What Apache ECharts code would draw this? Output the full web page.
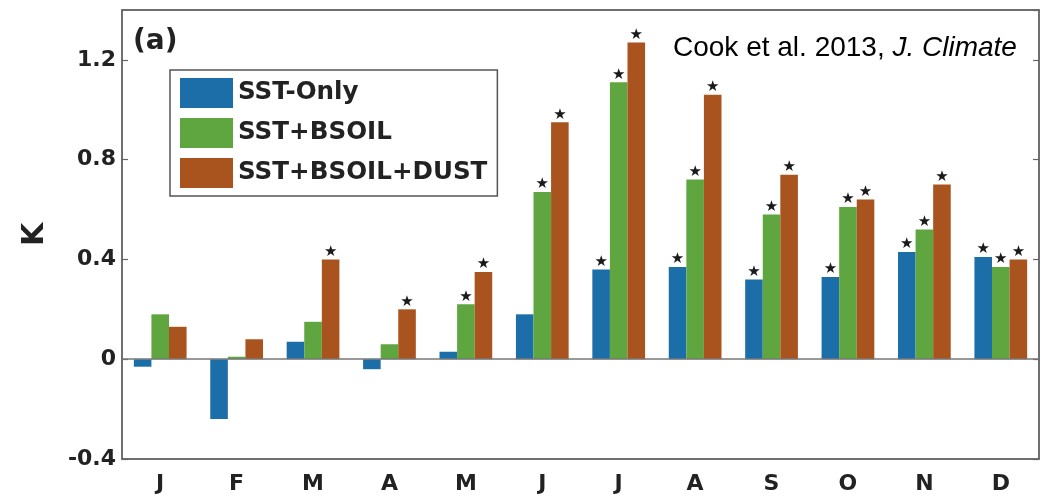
<!DOCTYPE html>
<html>
<head>
<meta charset="utf-8">
<style>
  html, body { margin: 0; padding: 0; background: #fff; }
  #chart { width: 1053px; height: 497px; }
</style>
<script src="https://cdn.jsdelivr.net/npm/echarts@6/dist/echarts.min.js"></script>
</head>
<body>
<div id="chart"></div>
<script>
// ---- data ----
const months = ['J', 'F', 'M', 'A', 'M', 'J', 'J', 'A', 'S', 'O', 'N', 'D'];
const seriesNames = ['SST-Only', 'SST+BSOIL', 'SST+BSOIL+DUST'];
const sstOnly      = [-0.03, -0.24, 0.07, -0.04, 0.03, 0.18, 0.36, 0.37, 0.32, 0.33, 0.43, 0.41];
const sstBsoil     = [0.18, 0.01, 0.15, 0.06, 0.22, 0.67, 1.11, 0.72, 0.58, 0.61, 0.52, 0.37];
const sstBsoilDust = [0.13, 0.08, 0.40, 0.20, 0.35, 0.95, 1.27, 1.06, 0.74, 0.64, 0.70, 0.40];
// significance flags (star above bar)
const sigOnly      = [0, 0, 0, 0, 0, 0, 1, 1, 1, 1, 1, 1];
const sigBsoil     = [0, 0, 0, 0, 1, 1, 1, 1, 1, 1, 1, 1];
const sigDust      = [0, 0, 1, 1, 1, 1, 1, 1, 1, 1, 1, 1];
const yTicks = [-0.4, 0, 0.4, 0.8, 1.2];

const colors = ['#1b6ea8', '#5fa640', '#a9531e'];
const axisColor = '#666';
const labelFont = 'DejaVu Sans';

function makeSeries(name, values, sig, color, withZero) {
  const s = {
    name: name,
    type: 'bar',
    data: values,
    barGap: '0%',
    barCategoryGap: '31%',
    itemStyle: { color: color },
    label: {
      show: true,
      position: 'top',
      distance: 0,
      formatter: p => sig[p.dataIndex] ? '\u2605' : '',
      fontSize: 15,
      color: '#1a1a1a',
      fontFamily: 'DejaVu Sans'
    },
    emphasis: { disabled: true },
    animation: false
  };
  if (withZero) {
    s.markLine = {
      silent: true,
      symbol: ['none', 'none'],
      label: { show: false },
      lineStyle: { color: '#777', width: 1.5, type: 'solid' },
      data: [{ yAxis: 0 }],
      animation: false
    };
  }
  return s;
}

const chart = echarts.init(document.getElementById('chart'), null, { renderer: 'canvas' });

const option = {
  backgroundColor: '#fff',
  animation: false,
  grid: {
    left: 122, right: 14, top: 10, bottom: 38,
    show: true, borderColor: axisColor, borderWidth: 1.5, backgroundColor: 'transparent'
  },
  legend: {
    orient: 'vertical',
    left: 170, top: 70,
    icon: 'rect',
    itemWidth: 53, itemHeight: 30, itemGap: 10,
    padding: [8, 10, 8, 10],
    borderColor: '#555', borderWidth: 1.5,
    backgroundColor: '#fff',
    selectedMode: false,
    textStyle: { fontFamily: labelFont, fontWeight: 'bold', fontSize: 24.6, color: '#222' },
    data: seriesNames
  },
  xAxis: [
    {
      type: 'category', data: months, position: 'bottom',
      axisLine: { onZero: false, lineStyle: { color: axisColor, width: 1.5 } },
      axisTick: { inside: true, alignWithLabel: true, length: 6, lineStyle: { color: axisColor, width: 1.2 } },
      axisLabel: { fontFamily: labelFont, fontWeight: 'bold', fontSize: 22, color: '#222', margin: 14 },
      splitLine: { show: false }
    },
    {
      type: 'category', data: months, position: 'top',
      axisLine: { show: true, onZero: false, lineStyle: { color: axisColor, width: 1.5 } },
      axisTick: { inside: true, alignWithLabel: true, length: 6, lineStyle: { color: axisColor, width: 1.2 } },
      axisLabel: { show: false },
      splitLine: { show: false }
    }
  ],
  yAxis: [
    {
      type: 'value', min: yTicks[0], max: 1.4, interval: 0.4, position: 'left',
      name: 'K', nameLocation: 'middle', nameGap: 72, nameRotate: 90,
      nameTextStyle: { fontFamily: labelFont, fontWeight: 'bold', fontSize: 30, color: '#222' },
      axisLine: { show: true, onZero: false, lineStyle: { color: axisColor, width: 1.5 } },
      axisTick: { show: true, inside: true, length: 6, lineStyle: { color: axisColor, width: 1.2 } },
      axisLabel: {
        fontFamily: labelFont, fontWeight: 'bold', fontSize: 22, color: '#222', margin: 6,
        showMaxLabel: false,
        formatter: v => {
          const r = Math.round(v * 10) / 10;
          return yTicks.some(t => Math.abs(t - r) < 1e-6) ? String(r) : '';
        }
      },
      splitLine: { show: false }
    },
    {
      type: 'value', min: yTicks[0], max: 1.4, interval: 0.4, position: 'right',
      axisLine: { show: true, onZero: false, lineStyle: { color: axisColor, width: 1.5 } },
      axisTick: { show: true, inside: true, length: 6, lineStyle: { color: axisColor, width: 1.2 } },
      axisLabel: { show: false },
      splitLine: { show: false }
    }
  ],
  series: [
    makeSeries(seriesNames[0], sstOnly, sigOnly, colors[0], true),
    makeSeries(seriesNames[1], sstBsoil, sigBsoil, colors[1], false),
    makeSeries(seriesNames[2], sstBsoilDust, sigDust, colors[2], false)
  ],
  graphic: [
    {
      type: 'text', left: 133, top: 28, silent: true,
      style: { text: '(a)', font: 'bold 28px "DejaVu Sans"', fill: '#222' }
    },
    {
      type: 'text', silent: true, z: 100,
      style: {
        x: 673, y: 48, textVerticalAlign: 'middle',
        text: '{n|Cook et al. 2013, }{i|J. Climate}',
        rich: {
          n: { fontFamily: 'Liberation Sans', fontSize: 28, fill: '#000', color: '#000' },
          i: { fontFamily: 'Liberation Sans', fontSize: 28, fontStyle: 'italic', fill: '#000', color: '#000' }
        }
      }
    }
  ]
};

chart.setOption(option);
</script>
</body>
</html>
